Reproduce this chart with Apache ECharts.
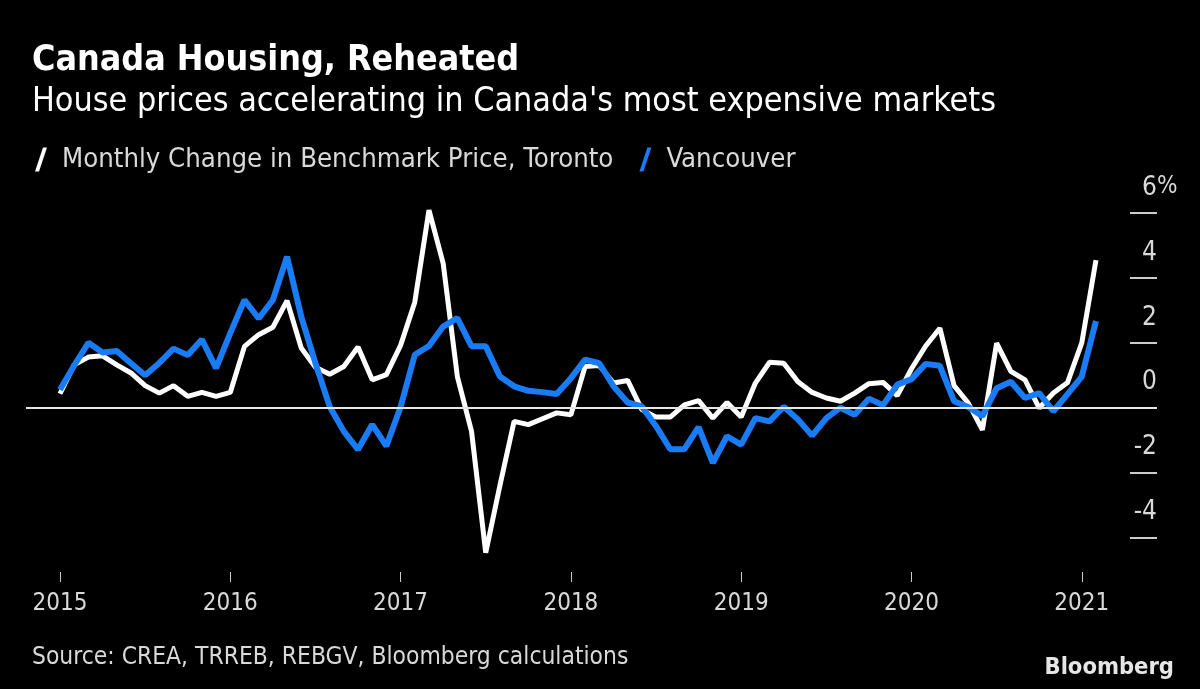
<!DOCTYPE html>
<html>
<head>
<meta charset="utf-8">
<script src="https://cdn.jsdelivr.net/npm/echarts@6/dist/echarts.min.js"></script>
<style>
html,body{margin:0;padding:0;background:#000;}
#chart{width:1200px;height:689px;}
</style>
</head>
<body>
<div id="chart"></div>
<script>
// Month index 0 = Jan 2015 ... 73 = Feb 2021
const startYear = 2015;
const toronto = [0.43,1.32,1.56,1.6,1.32,1.07,0.68,0.45,0.68,0.35,0.47,0.35,
  0.47,1.89,2.25,2.48,3.3,1.84,1.25,1.03,1.27,1.87,0.86,1.02,
  1.92,3.25,6.09,4.45,0.96,-0.73,-4.47,-2.4,-0.42,-0.52,-0.34,-0.16,
  -0.22,1.27,1.3,0.76,0.84,-0.06,-0.29,-0.29,0.09,0.22,-0.32,0.16,
  -0.29,0.76,1.4,1.37,0.8,0.47,0.3,0.2,0.45,0.74,0.78,0.37,
  1.2,1.9,2.45,0.68,0.14,-0.68,1.99,1.12,0.86,-0.01,0.45,0.78,
  2.0,4.55];
const vancouver = [0.55,1.3,2.0,1.7,1.75,1.37,1.0,1.38,1.82,1.62,2.1,1.22,
  2.3,3.32,2.75,3.32,4.65,2.81,1.37,0.04,-0.73,-1.29,-0.52,-1.18,
  0.02,1.63,1.9,2.5,2.76,1.89,1.89,0.96,0.66,0.52,0.48,0.42,
  0.91,1.48,1.37,0.66,0.16,0.04,-0.57,-1.28,-1.28,-0.6,-1.7,-0.88,
  -1.14,-0.32,-0.42,0.03,-0.36,-0.86,-0.32,0.0,-0.22,0.28,0.08,0.71,
  0.88,1.35,1.29,0.2,0.02,-0.26,0.6,0.8,0.3,0.45,-0.11,0.42,
  0.96,2.67];
const yearTicks = [0,12,24,36,48,60,72];
const yMin = -4, yMax = 6, yStep = 2;

const FONT = "'Liberation Sans Narrow','DejaVu Sans Condensed','Liberation Sans',sans-serif";
const chart = echarts.init(document.getElementById('chart'), null, {renderer:'canvas'});
const slash = 'path://M8,0 L12,0 L4,24 L0,24 Z';

const option = {
  backgroundColor: '#000',
  animation: false,
  textStyle: {fontFamily: FONT},
  title: [
    {text: 'Canada Housing, Reheated', left: 27, top: 38,
     textStyle: {color:'#fff', fontSize: 35.5, fontWeight: 'bold', fontFamily: FONT}},
    {text: "House prices accelerating in Canada's most expensive markets", left: 27, top: 80,
     textStyle: {color:'#fff', fontSize: 33.8, fontWeight: 'normal', fontFamily: FONT}},
    {text: 'Source: CREA, TRREB, REBGV, Bloomberg calculations', left: 27, top: 641,
     textStyle: {color:'#d9d9d9', fontSize: 24.4, fontWeight: 'normal', fontFamily: FONT}},
    {text: 'Bloomberg', right: 21, top: 651,
     textStyle: {color:'#e6e6e6', fontSize: 23.5, fontWeight: 'bold', fontFamily: FONT}}
  ],
  legend: {
    left: 30, top: 141, itemWidth: 12, itemHeight: 24, itemGap: 26,
    textStyle: {color:'#d9d9d9', fontSize: 27.3, fontFamily: FONT, padding:[0,0,0,10]},
    data: [
      {name: 'Monthly Change in Benchmark Price, Toronto', icon: slash, itemStyle:{color:'#fff'}},
      {name: 'Vancouver', icon: slash, itemStyle:{color:'#1a7cf5'}}
    ]
  },
  // plot box spans y = 6 (top) to y = -4 (bottom); lines are not clipped so the dip below -4 shows
  grid: {left: 26, right: 43, top: 213, bottom: 151.5, containLabel: false},
  xAxis: {
    type: 'value', min: -2.395, max: 77.3, offset: 34.5,
    axisLine: {show: false, onZero: false},
    splitLine: {show: false},
    axisTick: {show: true, length: 10, customValues: yearTicks, lineStyle:{color:'#cccccc', width: 1}},
    axisLabel: {customValues: yearTicks, margin: 20, color:'#d9d9d9', fontSize: 24, fontFamily: FONT,
      formatter: v => String(startYear + Math.round(v/12))}
  },
  yAxis: {
    type: 'value', position: 'right', offset: -27, min: yMin, max: yMax, interval: yStep,
    axisLine: {show: false, onZero: false},
    splitLine: {show: false},
    axisTick: {show: true, inside: false, length: 27, lineStyle:{color:'#cccccc', width: 2}},
    axisLabel: {inside: false, margin: 27, align: 'right', verticalAlign: 'bottom',
      padding: [0,0,12,0], color:'#d9d9d9', fontSize: 26, fontFamily: FONT,
      showMinLabel: true, showMaxLabel: true,
      formatter: v => String(v)}
  },
  series: [
    {name: 'Monthly Change in Benchmark Price, Toronto', type: 'line', showSymbol: false, symbol: 'none', clip: false,
     data: toronto.map((v,i)=>[i,v]), lineStyle:{color:'#fff', width: 5}, itemStyle:{color:'#fff'}, z: 3,
     markLine: {silent: true, symbol: 'none', label:{show:false},
       lineStyle:{color:'#e6e6e6', width: 2, type:'solid'}, data:[{yAxis: 0}]}},
    {name: 'Vancouver', type: 'line', showSymbol: false, symbol: 'none', clip: false,
     data: vancouver.map((v,i)=>[i,v]), lineStyle:{color:'#1a7cf5', width: 6}, itemStyle:{color:'#1a7cf5'}, z: 4}
  ]
};
chart.setOption(option);
// percent sign after the top tick label
const topY = chart.convertToPixel({yAxisIndex: 0}, yMax);
const rightX = chart.convertToPixel({xAxisIndex: 0}, 77.3);
chart.setOption({graphic: [{type:'text', left: rightX, top: topY - 38,
  style:{text:'%', fill:'#d9d9d9', font: '24px ' + FONT}}]});
</script>
</body>
</html>
